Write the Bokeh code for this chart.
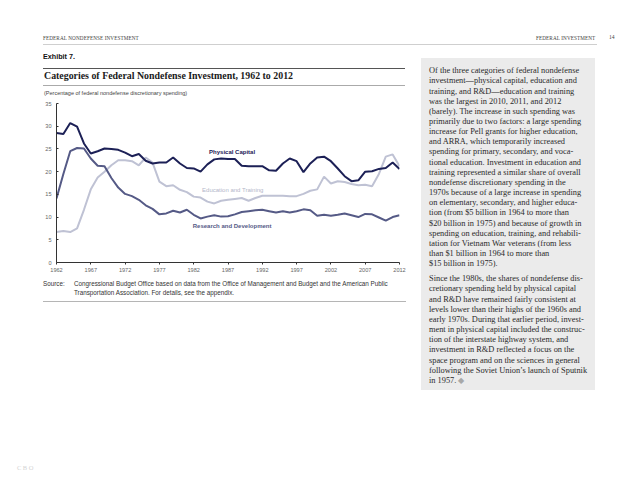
from bokeh.plotting import figure
from bokeh.models import Range1d, Label, Div, FixedTicker
from bokeh.layouts import column, row
from bokeh.embed import file_html
from bokeh.resources import INLINE

# ---------------- data ----------------
years = list(range(1962, 2013))
physical_capital = [28.5, 28.3, 30.7, 29.9, 26.2, 24.0, 24.5, 25.1, 25.0, 24.8,
                    24.2, 23.4, 23.9, 22.4, 21.8, 22.0, 22.0, 23.1, 21.8, 20.8,
                    20.7, 20.0, 21.6, 22.7, 22.9, 22.8, 22.8, 21.3, 21.2, 21.2,
                    21.2, 20.3, 20.2, 21.8, 22.9, 22.3, 19.9, 21.8, 23.1, 23.3,
                    22.3, 20.7, 19.0, 17.9, 18.1, 20.0, 20.1, 20.6, 20.8, 22.0,
                    20.6]
education_training = [6.7, 6.95, 6.7, 7.5, 11.6, 16.1, 18.7, 20.0, 21.4, 22.5,
                      22.5, 22.3, 21.4, 23.1, 22.0, 17.8, 16.8, 17.0, 16.0, 15.5,
                      14.5, 14.3, 13.4, 13.0, 13.6, 13.8, 14.0, 14.2, 13.6, 14.2,
                      14.7, 14.7, 14.7, 14.7, 14.6, 14.6, 15.1, 15.8, 16.1, 18.9,
                      17.4, 17.9, 17.7, 17.3, 17.0, 17.1, 16.8, 19.5, 23.3, 23.8,
                      21.2]
research_development = [14.1, 19.5, 24.5, 25.2, 25.1, 22.9, 21.3, 21.2, 18.6, 16.5,
                        15.1, 14.6, 13.8, 12.6, 11.8, 10.6, 10.8, 11.4, 11.0, 11.6,
                        10.5, 9.7, 10.1, 10.4, 10.1, 10.2, 10.6, 11.1, 11.3, 11.5,
                        11.6, 11.3, 11.0, 11.3, 11.0, 11.3, 11.7, 11.5, 10.3, 10.5,
                        10.3, 10.5, 10.8, 10.4, 10.0, 10.7, 10.6, 9.9, 9.2, 10.0,
                        10.4]
series_names = ["Physical Capital", "Education and Training", "Research and Development"]
x_ticks = [1962, 1967, 1972, 1977, 1982, 1987, 1992, 1997, 2002, 2007, 2012]
y_ticks = [0, 5, 10, 15, 20, 25, 30, 35]

header_left = "FEDERAL NONDEFENSE INVESTMENT"
header_right = "FEDERAL INVESTMENT"
page_number = "14"
exhibit = "Exhibit 7."
title = "Categories of Federal Nondefense Investment, 1962 to 2012"
subtitle = "(Percentage of federal nondefense discretionary spending)"
source_lines = ["Congressional Budget Office based on data from the Office of Management and Budget and the American Public",
                "Transportation Association. For details, see the appendix."]
para1 = ["Of the three categories of federal nondefense",
         "investment\u2014physical capital, education and",
         "training, and R&amp;D\u2014education and training",
         "was the largest in 2010, 2011, and 2012",
         "(barely). The increase in such spending was",
         "primarily due to two factors: a large spending",
         "increase for Pell grants for higher education,",
         "and ARRA, which temporarily increased",
         "spending for primary, secondary, and voca-",
         "tional education. Investment in education and",
         "training represented a similar share of overall",
         "nondefense discretionary spending in the",
         "1970s because of a large increase in spending",
         "on elementary, secondary, and higher educa-",
         "tion (from $5 billion in 1964 to more than",
         "$20 billion in 1975) and because of growth in",
         "spending on education, training, and rehabili-",
         "tation for Vietnam War veterans (from less",
         "than $1 billion in 1964 to more than",
         "$15 billion in 1975)."]
para2 = ["Since the 1980s, the shares of nondefense dis-",
         "cretionary spending held by physical capital",
         "and R&amp;D have remained fairly consistent at",
         "levels lower than their highs of the 1960s and",
         "early 1970s. During that earlier period, invest-",
         "ment in physical capital included the construc-",
         "tion of the interstate highway system, and",
         "investment in R&amp;D reflected a focus on the",
         "space program and on the sciences in general",
         "following the Soviet Union\u2019s launch of Sputnik",
         "in 1957. <span style='color:#a8a8a8'>\u25C6</span>"]

# ---------------- styles ----------------
C_PHYS = "#1c2056"
C_EDU = "#bfc2d4"
C_RD = "#555a86"
SANS = "'Liberation Sans', Arial, sans-serif"
SERIF = "'Liberation Serif', 'Times New Roman', serif"


def span(text, left, center_y, size, font, color="#333", weight="normal", extra=""):
    lh = size * 1.3
    top = center_y - lh / 2
    return (f"<div style=\"position:absolute;left:{left}px;top:{top:.1f}px;"
            f"font-family:{font};font-size:{size}px;line-height:{lh:.1f}px;color:{color};"
            f"font-weight:{weight};white-space:nowrap;{extra}\">{text}</div>")


def hline(left, top, width, thick, color):
    return (f"<div style=\"position:absolute;left:{left}px;top:{top}px;width:{width}px;"
            f"height:{thick}px;background:{color};\"></div>")


def box(w, h, inner):
    return f"<div style=\"position:relative;width:{w}px;height:{h}px;\">{inner}</div>"


# header (page y 8..50)
header_html = box(622, 42,
                  span(header_left, 35, 30, 5.2, SERIF, "#444", extra="letter-spacing:0.1px;")
                  + span(header_right, 528, 30, 5.2, SERIF, "#444", extra="letter-spacing:0.1px;")
                  + span(page_number, 601, 30, 5.6, SERIF, "#444")
                  + hline(35, 35.5, 554, 0.8, "#cfcfcf"))
header_div = Div(text=header_html, width=622, height=42, margin=0)

# top-left (page y 50..98)
tl_html = box(412, 48,
              span(exhibit, 35, 7, 7.2, SANS, "#111", "bold")
              + hline(35, 17.5, 362, 1.0, "#555")
              + span(title, 36, 26.5, 9.9, SERIF, "#1a1a1a", "bold")
              + hline(35, 34.5, 362, 0.8, "#aaa")
              + span(subtitle, 36, 43.5, 5.5, SANS, "#444"))
tl_div = Div(text=tl_html, width=412, height=48, margin=0)

# ---------------- chart ----------------
p = figure(width=412, height=182, x_range=Range1d(1962, 2012), y_range=Range1d(0, 35),
           output_backend="svg", toolbar_location=None,
           min_border_left=48, min_border_right=21, min_border_top=5, min_border_bottom=18,
           background_fill_color="white", border_fill_color="white")
p.outline_line_color = None
p.xgrid.visible = False
p.ygrid.visible = False

p.line(years, education_training, line_color=C_EDU, line_width=2.0)
p.line(years, research_development, line_color=C_RD, line_width=2.0)
p.line(years, physical_capital, line_color=C_PHYS, line_width=2.0)

for ax in (p.xaxis[0], p.yaxis[0]):
    ax.axis_line_color = "#333"
    ax.axis_line_width = 1
    ax.minor_tick_line_color = None
    ax.major_tick_line_color = "#333"
    ax.major_label_text_font = "Liberation Sans"
    ax.major_label_text_font_size = "5.6px"
    ax.major_label_text_color = "#666"

p.xaxis.ticker = FixedTicker(ticks=x_ticks)
p.xaxis.major_tick_out = 2
p.xaxis.major_tick_in = 0
p.xaxis.major_label_standoff = 3
p.yaxis.ticker = FixedTicker(ticks=y_ticks)
p.yaxis.major_tick_out = 0
p.yaxis.major_tick_in = 2
p.yaxis.major_label_standoff = 5

label_pos = [(1987.6, 24.25), (1987.7, 15.9), (1987.6, 8.13)]
label_style = [(C_PHYS, "bold"), ("#b3b6c9", "normal"), (C_RD, "bold")]
for name, (lx, ly), (col, fw) in zip(series_names, label_pos, label_style):
    p.add_layout(Label(x=lx, y=ly, text=name, text_align="center", text_baseline="middle",
                       text_font="Liberation Sans", text_font_size="6px",
                       text_font_style=fw, text_color=col))

# bottom-left (page y 280..320)
bl_html = box(412, 40,
              span("Source:", 35, 4.5, 6.3, SANS, "#333")
              + span(source_lines[0], 66, 4.5, 6.3, SANS, "#333")
              + span(source_lines[1], 66, 12.8, 6.3, SANS, "#333")
              + hline(35, 20.5, 363, 1.5, "#b5b5b5"))
bl_div = Div(text=bl_html, width=412, height=40, margin=0)

# right text box (page y 50..390)
lh = 10.15
p1 = "<br>".join(para1)
p2 = "<br>".join(para2)
rt_html = (f"<div style=\"position:relative;width:200px;height:340px;\">"
           f"<div style=\"position:absolute;left:1px;top:8px;width:174px;height:332px;"
           f"background:#ebebeb;\">"
           f"<div style=\"position:absolute;left:8px;top:8.2px;font-family:{SERIF};"
           f"font-size:8.35px;line-height:{lh}px;color:#2a2a2a;white-space:nowrap;\">"
           f"{p1}<div style='height:5px'></div>{p2}</div></div></div>")
rt_div = Div(text=rt_html, width=200, height=340, margin=0)

# footer (page y 390..477)
ft_html = box(200, 85, span("CBO", 9, 77.7, 6.5, SERIF, "#d4d4d4", extra="letter-spacing:1.5px;"))
ft_div = Div(text=ft_html, width=200, height=85, margin=0)

left_col = column(tl_div, p, bl_div, spacing=0)
main = row(left_col, rt_div, spacing=0)
page = column(header_div, main, ft_div, spacing=0, margin=(8, 0, 0, 8))

open("out.html", "w").write(file_html(page, INLINE))
